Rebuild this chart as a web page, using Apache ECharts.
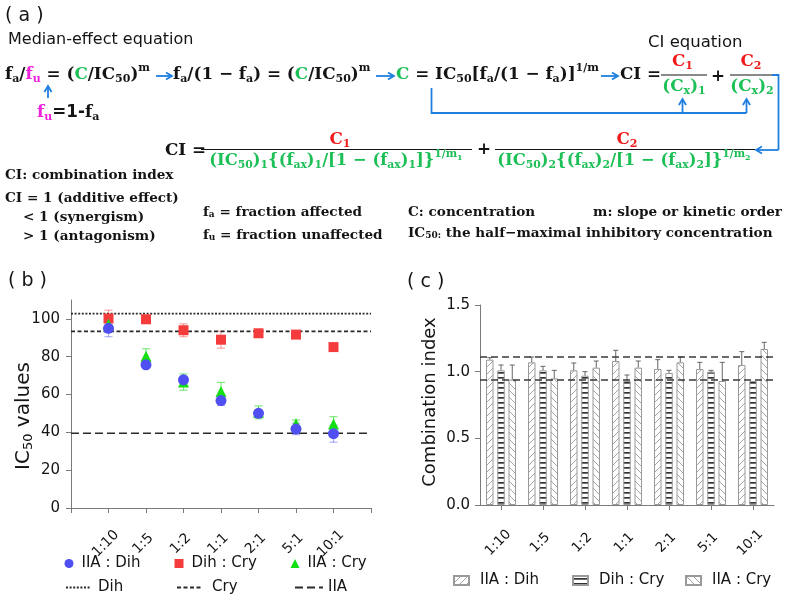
<!DOCTYPE html>
<html><head><meta charset="utf-8">
<script src="https://cdn.jsdelivr.net/npm/echarts@6/dist/echarts.min.js"></script>
<style>html,body{margin:0;padding:0;background:#fff}#c{width:787px;height:601px}</style>
</head><body><div id="c"></div>
<script>
// ---------- data ----------
const ratios = ['1:10','1:5','1:2','1:1','2:1','5:1','10:1'];
const bAxisLabels = ['', '1:10','1:5','1:2','1:1','2:1','5:1','10:1', ''];
const bYTicks = [0, 20, 40, 60, 80, 100];
const ic50IIADih    = [95.0, 75.7, 67.8, 56.8, 50.1, 41.8, 39.3];
const ic50IIADihErr = [4.4, 1.2, 1.8, 2.6, 1.6, 3.0, 4.5];
const ic50DihCry    = [100.2, 99.8, 94.0, 89.0, 92.4, 91.7, 85.1];
const ic50DihCryErr = [4.4, 1.2, 3.4, 4.5, 1.4, 1.2, 1.0];
const ic50IIACry    = [97.2, 80.2, 66.6, 61.6, 50.6, 44.6, 44.4];
const ic50IIACryErr = [2.0, 4.0, 4.3, 4.8, 3.4, 2.0, 3.9];
const ic50Dih = [102.8, 102.8];
const ic50Cry = [93.4, 93.4];
const ic50IIA = [39.5, 39.5];
const ciYTicks = [0, 0.5, 1.0, 1.5];
const ciIIADih    = [1.09, 1.07, 1.01, 1.08, 1.02, 1.02, 1.05];
const ciIIADihErr = [0.015, 0.04, 0.055, 0.08, 0.07, 0.05, 0.10];
const ciDihCry    = [1.01, 1.01, 0.97, 0.93, 0.99, 1.00, 0.93];
const ciDihCryErr = [0.04, 0.03, 0.03, 0.045, 0.02, 0.01, 0];
const ciIIACry    = [0.94, 0.95, 1.03, 1.03, 1.07, 0.93, 1.17];
const ciIIACryErr = [0.11, 0.06, 0.05, 0.05, 0.04, 0.14, 0.05];
const ciRefLines = [1.11, 0.935];

// ---------- styles ----------
const SANS = '"DejaVu Sans", sans-serif';
const SER = '"DejaVu Serif", serif';
const BLK = '#141414', GRN = '#1dbf57', RED = '#f01a1a', MAG = '#ee22dd', BLUE = '#1f7fdf';
const AX = '#7a7a7a';
function st(fill, size, shift, fam, weight) {
  const p = shift > 0 ? [2 * shift, 0, 0, 0] : shift < 0 ? [0, 0, -2 * shift, 0] : [0, 0, 0, 0];
  return { fill: fill, fontSize: size, fontFamily: fam || SER, fontWeight: weight || 'bold', padding: p };
}
const FS = 16.8, SB = 11;
const rich = {
  n: st(BLK, FS, 0), g: st(GRN, FS, 0), r: st(RED, FS, 0), m: st(MAG, FS, 0),
  nb: st(BLK, SB, 4), gb: st(GRN, SB, 4), rb: st(RED, SB, 4), mb: st(MAG, SB, 4),
  np: st(BLK, SB, -7), gp: st(GRN, SB, -7), gpb: st(GRN, 8, -3),
  s: st(BLK, FS, 0, SANS),
  G: st(GRN, 16.4, 0), Gb: st(GRN, 10.8, 4), Gp: st(GRN, 10.8, -7), Gpb: st(GRN, 8, -3),
  t: st(BLK, 13.6, 0), tb: st(BLK, 9, 3)
};
function T(x, y, text, align, base) {
  return { type: 'text', x: x, y: y, silent: true,
    style: Object.assign({ text: text, rich: rich, align: align || 'left', verticalAlign: 'middle',
      textAlign: align || 'left', textVerticalAlign: 'middle', fill: BLK,
      fontFamily: SER, fontWeight: 'bold', fontSize: FS }, base || {}) };
}
function S(x, y, text, size, align, rot) {
  return { type: 'text', x: x, y: y, rotation: rot || 0, silent: true,
    style: { text: text, fill: BLK, fontFamily: SANS, fontSize: size, align: align || 'left', verticalAlign: 'middle',
      textAlign: align || 'left', textVerticalAlign: 'middle' } };
}
function L(x1, y1, x2, y2, color, w) {
  return { type: 'line', silent: true, shape: { x1: x1, y1: y1, x2: x2, y2: y2 }, style: { stroke: color || BLK, lineWidth: w || 1.2 } };
}
function arrow(x1, y1, x2, y2) {
  const a = Math.atan2(y2 - y1, x2 - x1), len = 6, wd = 3.6;
  const bx = x2 - len * Math.cos(a), by = y2 - len * Math.sin(a);
  const px = -Math.sin(a) * wd, py = Math.cos(a) * wd;
  return [L(x1, y1, x2 - Math.cos(a), y2 - Math.sin(a), BLUE, 1.8),
    { type: 'polyline', silent: true, shape: { points: [[bx + px, by + py], [x2, y2], [bx - px, by - py]] },
      style: { stroke: BLUE, lineWidth: 1.8, fill: null } }];
}
function PL(points) {
  return { type: 'polyline', silent: true, shape: { points: points }, style: { stroke: BLUE, lineWidth: 1.8, fill: null } };
}

const graphics = [].concat(
  [S(5, 16, '( a )', 19), S(8, 40, 'Median-effect equation', 16), S(648, 43, 'CI equation', 16.5),
   S(8, 281, '( b )', 19), S(407, 282, '( c )', 19)],
  [T(5, 75, '{n|f}{nb|a}{n|/}{m|f}{mb|u}{n| = (}{g|C}{n|/IC}{nb|50}{n|)}{np|m}')],
  arrow(156, 76, 172, 76),
  [T(173, 75, '{n|f}{nb|a}{n|/(1 − f}{nb|a}{n|) = (}{g|C}{n|/IC}{nb|50}{n|)}{np|m}')],
  arrow(376, 76, 394, 76),
  [T(396, 75, '{g|C}{n| = IC}{nb|50}{n|[f}{nb|a}{n|/(1 − f}{nb|a}{n|)]}{np|1/m}')],
  arrow(601, 76, 618, 76),
  [T(620, 75, '{n|CI =}'),
   T(682.5, 62, '{r|C}{rb|1}', 'center'), L(661, 75, 707, 75), T(684, 87, '{g|(C}{gb|x}{g|)}{gb|1}', 'center'),
   T(718, 77, '{n|+}', 'center'),
   T(751, 62, '{r|C}{rb|2}', 'center'), L(730, 75, 772, 75), T(752, 87, '{g|(C}{gb|x}{g|)}{gb|2}', 'center')],
  arrow(48, 98, 48, 86),
  [T(37, 113, '{m|f}{mb|u}{s|=1-}{n|f}{nb|a}')],
  [PL([[431.5, 88], [431.5, 113], [746.5, 113]])],
  arrow(682.5, 113, 682.5, 99), arrow(746.5, 113, 746.5, 99),
  [PL([[772, 75], [778.5, 75], [778.5, 150]])],
  arrow(778.5, 150, 756, 150),
  [T(165, 151, '{n|CI =}'),
   T(340, 140, '{r|C}{rb|1}', 'center'), L(201, 149.5, 472, 149.5),
   T(336, 161, '{G|(IC}{Gb|50}{G|)}{Gb|1}{G|{(f}{Gb|ax}{G|)}{Gb|1}{G|/[1 − (f}{Gb|ax}{G|)}{Gb|1}{G|]}}{Gp|1/m}{Gpb|1}', 'center', { fill: GRN, fontSize: 16.4 }),
   T(484, 150, '{n|+}', 'center'),
   T(627, 140, '{r|C}{rb|2}', 'center'), L(495, 149.5, 755, 149.5),
   T(624, 161, '{G|(IC}{Gb|50}{G|)}{Gb|2}{G|{(f}{Gb|ax}{G|)}{Gb|2}{G|/[1 − (f}{Gb|ax}{G|)}{Gb|2}{G|]}}{Gp|1/m}{Gpb|2}', 'center', { fill: GRN, fontSize: 16.4 })],
  [T(5, 175, '{t|CI: combination index}'),
   T(5, 198, '{t|CI = 1 (additive effect)}'),
   T(23, 217, '{t|< 1 (synergism)}'),
   T(23, 236, '{t|> 1 (antagonism)}'),
   T(203, 212, '{t|f}{tb|a}{t| = fraction affected}'),
   T(203, 235, '{t|f}{tb|u}{t| = fraction unaffected}'),
   T(408, 212, '{t|C: concentration}'),
   T(593, 212, '{t|m: slope or kinetic order}'),
   T(408, 233, '{t|IC}{tb|50:}{t| the half−maximal inhibitory concentration}')],
  [{ type: 'text', x: 24, y: 416, rotation: Math.PI / 2, silent: true,
     style: { text: '{a|IC}{b|50}{a| values}', align: 'center', verticalAlign: 'middle', textAlign: 'center', textVerticalAlign: 'middle',
       rich: { a: { fontFamily: SANS, fontSize: 20, fill: BLK }, b: { fontFamily: SANS, fontSize: 13, fill: BLK, padding: [10, 0, 0, 0] } } } },
   S(430, 402, 'Combination index', 18, 'center', Math.PI / 2)]
);

// ---------- hatch patterns ----------
function hatch(kind) {
  const c = document.createElement('canvas');
  const g = c.getContext('2d');
  if (kind === 'h') {
    c.width = 6; c.height = 5;
    g.fillStyle = '#fff'; g.fillRect(0, 0, 6, 5);
    g.fillStyle = '#333'; g.fillRect(0, 2, 6, 1.7);
  } else {
    const n = 7; c.width = n; c.height = n;
    g.fillStyle = '#fff'; g.fillRect(0, 0, n, n);
    g.strokeStyle = '#999'; g.lineWidth = 0.9; g.beginPath();
    if (kind === '/') {
      g.moveTo(0, n); g.lineTo(n, 0); g.moveTo(-1, 1); g.lineTo(1, -1); g.moveTo(n - 1, n + 1); g.lineTo(n + 1, n - 1);
    } else {
      g.moveTo(0, 0); g.lineTo(n, n); g.moveTo(n - 1, -1); g.lineTo(n + 1, 1); g.moveTo(-1, n - 1); g.lineTo(1, n + 1);
    }
    g.stroke();
  }
  return { image: c, repeat: 'repeat' };
}

// ---------- error bar series ----------
function errB(vals, errs, color) {
  return { type: 'custom', xAxisIndex: 0, yAxisIndex: 0, silent: true, z: 1,
    data: vals.map((v, i) => [i + 1, v, errs[i]]), encode: { x: 0, y: 1 },
    renderItem: function (params, api) {
      const x = api.value(0), v = api.value(1), e = api.value(2);
      const p1 = api.coord([x, v + e]), p2 = api.coord([x, v - e]);
      const s = { stroke: color, lineWidth: 1.2 };
      return { type: 'group', children: [
        { type: 'line', shape: { x1: p1[0], y1: p1[1], x2: p2[0], y2: p2[1] }, style: s },
        { type: 'line', shape: { x1: p1[0] - 4, y1: p1[1], x2: p1[0] + 4, y2: p1[1] }, style: s },
        { type: 'line', shape: { x1: p2[0] - 4, y1: p2[1], x2: p2[0] + 4, y2: p2[1] }, style: s }] };
    } };
}
const BW = 7.5, OFF = 11.25;
function errC(vals, errs, k) {
  return { type: 'custom', xAxisIndex: 1, yAxisIndex: 1, silent: true, z: 3,
    data: vals.map((v, i) => [i, v, errs[i]]), encode: { x: 0, y: 1 },
    renderItem: function (params, api) {
      const x = api.value(0), v = api.value(1), e = api.value(2);
      if (!e) return null;
      const p1 = api.coord([x, v + e]), p2 = api.coord([x, v]);
      const cx = p1[0] + k * OFF;
      const s = { stroke: '#666', lineWidth: 1 };
      return { type: 'group', children: [
        { type: 'line', shape: { x1: cx, y1: p1[1], x2: cx, y2: p2[1] }, style: s },
        { type: 'line', shape: { x1: cx - 2.5, y1: p1[1], x2: cx + 2.5, y2: p1[1] }, style: s }] };
    } };
}

const chart = echarts.init(document.getElementById('c'), null, { renderer: 'canvas' });
const legendBase = { orient: 'horizontal', padding: 0, selectedMode: false,
  textStyle: { fontFamily: SANS, fontSize: 15, color: BLK } };
function leg(name, left, top, w, h, pad, extra) {
  return Object.assign({}, legendBase, { data: [name], left: left, top: top, itemWidth: w, itemHeight: h,
    textStyle: Object.assign({}, legendBase.textStyle, { padding: [0, 0, 0, pad || 0] }) }, extra || {});
}
chart.setOption({
  animation: false,
  textStyle: { fontFamily: SANS },
  graphic: { elements: graphics },
  legend: [
    leg('IIA : Dih', 64.5, 556, 9, 9, 3), leg('Dih : Cry', 174.5, 556, 9, 9, 3), leg('IIA : Cry', 290.5, 556, 9, 9, 3),
    leg('Dih', 65, 580, 25, 10, 2, { itemStyle: { opacity: 0 } }),
    leg('Cry', 176, 580, 25, 10, 5, { itemStyle: { opacity: 0 } }),
    leg('IIA', 294, 580, 28, 10, 0, { itemStyle: { opacity: 0 } }),
    leg('IIA : Dih ', 453, 573, 15, 9, 6, { icon: 'rect' }),
    leg('Dih : Cry ', 572, 573, 15, 9, 6, { icon: 'rect' }),
    leg('IIA : Cry ', 685, 573, 15, 9, 6, { icon: 'rect' })
  ],
  grid: [
    { left: 71, top: 300, width: 300, height: 208, outerBoundsMode: 'none', containLabel: false },
    { left: 480, top: 305, width: 294, height: 200, outerBoundsMode: 'none', containLabel: false }
  ],
  xAxis: [
    { type: 'category', gridIndex: 0, data: bAxisLabels, boundaryGap: false,
      axisLine: { show: true, onZero: false, lineStyle: { color: AX, width: 1 } },
      axisTick: { show: true, interval: 0, length: 5, lineStyle: { color: AX } },
      axisLabel: { interval: 0, rotate: 45, align: 'center', verticalAlign: 'middle', margin: 33, padding: [0, 8, 0, 0],
        fontFamily: SANS, fontSize: 14, color: BLK }, splitLine: { show: false } },
    { type: 'category', gridIndex: 1, data: ratios, boundaryGap: true,
      axisLine: { show: true, onZero: false, lineStyle: { color: AX, width: 1 } },
      axisTick: { show: true, alignWithLabel: true, length: 5, lineStyle: { color: AX } },
      axisLabel: { interval: 0, rotate: 45, align: 'center', verticalAlign: 'middle', margin: 35, padding: [0, 8, 0, 0],
        fontFamily: SANS, fontSize: 13.5, color: BLK }, splitLine: { show: false } }
  ],
  yAxis: [
    { type: 'value', gridIndex: 0, min: 0, max: 110, interval: 20,
      axisLine: { show: true, lineStyle: { color: AX } },
      axisTick: { show: true, length: 5, customValues: bYTicks, lineStyle: { color: AX } },
      axisLabel: { customValues: bYTicks, margin: 11, fontFamily: SANS, fontSize: 15, color: BLK },
      splitLine: { show: false } },
    { type: 'value', gridIndex: 1, min: 0, max: 1.5, interval: 0.5,
      axisLine: { show: true, lineStyle: { color: AX } },
      axisTick: { show: true, length: 5, lineStyle: { color: AX } },
      axisLabel: { margin: 10, fontFamily: SANS, fontSize: 15, color: BLK, formatter: v => v.toFixed(1) },
      splitLine: { show: false } }
  ],
  series: [
    { name: 'Dih', type: 'line', xAxisIndex: 0, yAxisIndex: 0, data: [[0, ic50Dih[0]], [8, ic50Dih[1]]], symbol: 'none',
      lineStyle: { color: '#2a2a2a', width: 1.6, type: [2, 1.6] }, itemStyle: { color: '#2a2a2a' }, silent: true },
    { name: 'Cry', type: 'line', xAxisIndex: 0, yAxisIndex: 0, data: [[0, ic50Cry[0]], [8, ic50Cry[1]]], symbol: 'none',
      lineStyle: { color: '#2a2a2a', width: 1.6, type: [4, 2.5] }, itemStyle: { color: '#2a2a2a' }, silent: true },
    { name: 'IIA', type: 'line', xAxisIndex: 0, yAxisIndex: 0, data: [[0, ic50IIA[0]], [8, ic50IIA[1]]], symbol: 'none',
      lineStyle: { color: '#2a2a2a', width: 1.6, type: [8, 4] }, itemStyle: { color: '#2a2a2a' }, silent: true },
    errB(ic50DihCry, ic50DihCryErr, 'rgba(245,60,60,0.45)'),
    errB(ic50IIACry, ic50IIACryErr, 'rgba(0,215,0,0.5)'),
    errB(ic50IIADih, ic50IIADihErr, 'rgba(80,80,240,0.45)'),
    { name: 'Dih : Cry', type: 'scatter', xAxisIndex: 0, yAxisIndex: 0, symbol: 'rect', symbolSize: 10,
      data: ic50DihCry.map((v, i) => [i + 1, v]), itemStyle: { color: '#f53c3c', opacity: 1 }, z: 3 },
    { name: 'IIA : Cry', type: 'scatter', xAxisIndex: 0, yAxisIndex: 0, symbol: 'triangle', symbolSize: 11,
      data: ic50IIACry.map((v, i) => [i + 1, v]), itemStyle: { color: '#12e012', opacity: 1 }, z: 3 },
    { name: 'IIA : Dih', type: 'scatter', xAxisIndex: 0, yAxisIndex: 0, symbol: 'circle', symbolSize: 11,
      data: ic50IIADih.map((v, i) => [i + 1, v]), itemStyle: { color: '#4f4ff2', opacity: 1 }, z: 3 },
    { name: 'IIA : Dih ', type: 'bar', xAxisIndex: 1, yAxisIndex: 1, data: ciIIADih, barWidth: BW, barGap: '50%',
      itemStyle: { color: hatch('/'), borderColor: '#9a9a9a', borderWidth: 1 },
      markLine: { silent: true, symbol: ['none', 'none'], label: { show: false }, z: 5,
        lineStyle: { color: '#3a3a3a', type: [7, 4], width: 1.5 }, data: ciRefLines.map(v => ({ yAxis: v })) } },
    { name: 'Dih : Cry ', type: 'bar', xAxisIndex: 1, yAxisIndex: 1, data: ciDihCry, barWidth: BW, barGap: '50%',
      itemStyle: { color: hatch('h'), borderColor: '#9a9a9a', borderWidth: 1 } },
    { name: 'IIA : Cry ', type: 'bar', xAxisIndex: 1, yAxisIndex: 1, data: ciIIACry, barWidth: BW, barGap: '50%',
      itemStyle: { color: hatch('\\'), borderColor: '#9a9a9a', borderWidth: 1 } },
    errC(ciIIADih, ciIIADihErr, -1), errC(ciDihCry, ciDihCryErr, 0), errC(ciIIACry, ciIIACryErr, 1)
  ]
});
</script></body></html>
